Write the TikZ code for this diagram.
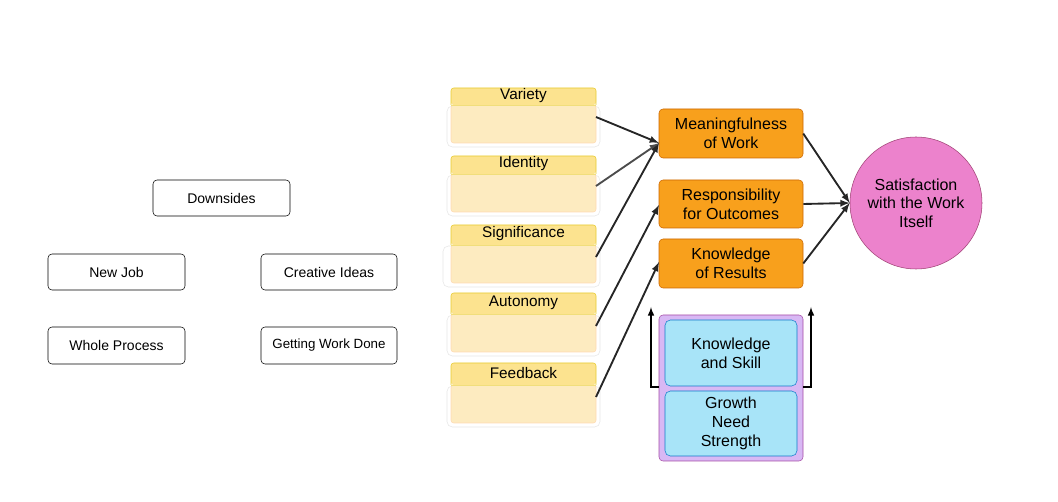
\documentclass[tikz,border=0pt]{standalone}
\usepackage{fontspec}
\setmainfont{Liberation Sans}
\definecolor{yh}{HTML}{FCE38F}
\definecolor{yb}{HTML}{FDEBC0}
\definecolor{og}{HTML}{F8A01C}
\definecolor{pk}{HTML}{EC82CC}
\definecolor{pu}{HTML}{D8B8F4}
\definecolor{cy}{HTML}{A8E4F8}
\begin{document}
\begin{tikzpicture}[x=0.75pt,y=-0.75pt,
 plain/.style={draw=black,rounded corners=3pt,font=\fontsize{10.5}{12}\selectfont},
 ybody/.style={draw=orange!30,fill=yb,rounded corners=2pt},
 ygh/.style={draw=gray!20,rounded corners=4pt},
 orng/.style={draw=orange!80!black,fill=og,rounded corners=3pt,align=center,font=\fontsize{12}{14}\selectfont},
 cyanb/.style={draw=cyan!60!blue,fill=cy,rounded corners=4pt,align=center,font=\fontsize{12}{14}\selectfont},
 con/.style={draw=black!85,line width=1.4pt,-latex}]
\useasboundingbox (0,0) rectangle (1058,502);
% left boxes
\node[plain,minimum width=137*0.75pt,minimum height=36*0.75pt] (down) at (221.5,198) {Downsides};
\node[plain,minimum width=137*0.75pt,minimum height=36*0.75pt] (nj) at (116.5,272) {New Job};
\node[plain,minimum width=136*0.75pt,minimum height=36*0.75pt] (ci) at (329,272) {Creative Ideas};
\node[plain,minimum width=137*0.75pt,minimum height=37*0.75pt] (wp) at (116.5,345.5) {Whole Process};
\node[plain,minimum width=136*0.75pt,minimum height=37*0.75pt,font=\fontsize{10}{12}\selectfont] (gw) at (329,345.5) {Getting Work Done};
% yellow boxes
\foreach \n/\t/\h/\b/\gx in {va/Variety/88/105/447, id/Identity/156/174/447, si/Significance/225/245/443, au/Autonomy/293/314/447, fe/Feedback/363/385/447}{
 \draw[ygh] (\gx,\b+1) rectangle (600,{\b+42});
 \draw[ybody] (451,\b) rectangle (596,{\b+38});
 \fill[yh,rounded corners=2pt] (451,\h) rectangle (596,\b);
 \draw[draw=yellow!60!brown,rounded corners=2pt] (451,\b) -- (451,\h) -- (596,\h) -- (596,\b);
 \draw[draw=yellow!60!brown!60] (451,\b) -- (596,\b);
 \node[font=\fontsize{11.5}{13}\selectfont] at (523.5,{(\h+\b)/2-1}) {\t};
 \coordinate (\n) at (596,{\b+12});
}
% orange
\node[orng,minimum width=144*0.75pt,minimum height=49*0.75pt] (mw) at (731,133.5) {Meaningfulness\\of Work};
\node[orng,minimum width=144*0.75pt,minimum height=48*0.75pt] (ro) at (731,204) {Responsibility\\for Outcomes};
\node[orng,minimum width=144*0.75pt,minimum height=49*0.75pt] (kr) at (731,263.5) {Knowledge\\of Results};
\node[circle,draw=magenta!60!black,fill=pk,minimum size=132*0.75pt,align=center,font=\fontsize{12}{14}\selectfont] (sat) at (916,203) {Satisfaction\\with the Work\\Itself};
% purple
\node[draw=violet!70,fill=pu,rounded corners=3pt,minimum width=144*0.75pt,minimum height=146*0.75pt] (pur) at (731,388) {};
\node[cyanb,minimum width=132*0.75pt,minimum height=66*0.75pt] (ks) at (731,353) {Knowledge\\and Skill};
\node[cyanb,minimum width=132*0.75pt,minimum height=65*0.75pt] (gn) at (731,423.5) {Growth\\Need\\Strength};
\coordinate (la) at (651,307); \coordinate (ra) at (811,307);
\draw[black,line width=1.2pt,-latex] (pur.west |- 0,387) -| (la);
\draw[black,line width=1.2pt,-latex] (pur.east |- 0,387) -| (ra);
% connectors
\coordinate (mwin) at (659,143);
\draw[con] (va) -- (mwin);
\draw[con,draw=black!70] (id) -- (mwin);
\draw[con] (si) -- (mwin);
\draw[con] (au) -- (659,205);
\draw[con] (fe) -- (659,262);
\draw[con] (mw.east) -- (sat.west);
\draw[con] (ro.east) -- (sat.west);
\draw[con] (kr.east) -- (sat.west);
\end{tikzpicture}
\end{document}
